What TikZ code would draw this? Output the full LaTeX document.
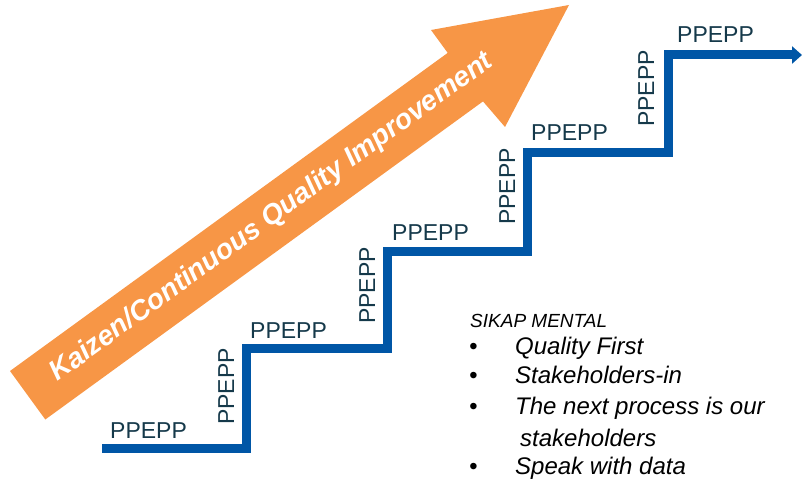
\documentclass[tikz,border=0pt]{standalone}
\usepackage{fontspec}
\setmainfont{Liberation Sans}
\usetikzlibrary{arrows.meta}
\definecolor{kaizenorange}{HTML}{F79646}
\definecolor{stairblue}{HTML}{0056A6}
\definecolor{stepteal}{HTML}{15394A}

\begin{document}
\begin{tikzpicture}[x=1pt,y=-1pt,
  stair/.style={stairblue,line width=9pt,line join=miter,-{Triangle[length=10pt,width=17pt]}},
  steplbl/.style={stepteal,inner sep=0pt,font=\fontsize{23}{23}\selectfont},
  mentallbl/.style={inner sep=0pt,anchor=base west,font=\fontsize{24}{24}\selectfont\itshape}]
\useasboundingbox (0,0) rectangle (802,481);
\fill[kaizenorange] (10,371) -- (447.7,52.9) -- (431,30) -- (569,5) -- (505,127) -- (483,101.4) -- (45.3,419.5) -- cycle;
\node[white,rotate=36,anchor=base,inner sep=0pt,font=\fontsize{28}{28}\selectfont\bfseries\itshape] (kaizen) at (276.1,223.3) {Kaizen/Continuous Quality Improvement};
\draw[stair] (102,448) -- (246,448) -- (246,348.5) -- (387,348.5) -- (387,251) -- (527.5,251) -- (527.5,152.5) -- (668,152.5) -- (668,55) -- (802,55);
\node[steplbl,anchor=base west] (h1) at (110,438) {PPEPP};
\node[steplbl,anchor=base west] (h2) at (250,338) {PPEPP};
\node[steplbl,anchor=base west] (h3) at (392,240) {PPEPP};
\node[steplbl,anchor=base west] (h4) at (531,141) {PPEPP};
\node[steplbl,anchor=base west] (h5) at (677,43) {PPEPP};
\node[steplbl,anchor=base east,rotate=90] (v1) at (234,348) {PPEPP};
\node[steplbl,anchor=base east,rotate=90] (v2) at (375,247) {PPEPP};
\node[steplbl,anchor=base east,rotate=90] (v3) at (515,148) {PPEPP};
\node[steplbl,anchor=base east,rotate=90] (v4) at (654,50) {PPEPP};
\node[inner sep=0pt,anchor=base west,font=\fontsize{19}{19}\selectfont\itshape] (sikap) at (470,327) {SIKAP MENTAL};
\node[mentallbl] (dot1) at (469,354) {•};
\node[mentallbl] (item1) at (515,354) {Quality First};
\node[mentallbl] (dot2) at (469,383) {•};
\node[mentallbl] (item2) at (515,383) {Stakeholders-in};
\node[mentallbl] (dot3) at (469,414) {•};
\node[mentallbl] (item3) at (515,414) {The next process is our};
\node[mentallbl] (item3b) at (520,446) {stakeholders};
\node[mentallbl] (dot4) at (469,474) {•};
\node[mentallbl] (item4) at (515,474) {Speak with data};
\end{tikzpicture}
\end{document}
